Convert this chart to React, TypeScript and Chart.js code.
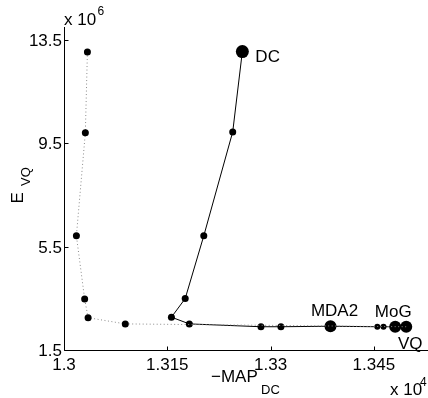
import React, { useEffect, useRef } from "react";
import { Chart, registerables } from "chart.js";

Chart.register(...registerables);

const xTicks = [1.3, 1.315, 1.33, 1.345];
const xTickLabels = ["1.3", "1.315", "1.33", "1.345"];
const yTicks = [1.5, 5.5, 9.5, 13.5];
const yTickLabels = ["1.5", "5.5", "9.5", "13.5"];

const dottedX = [1.3034, 1.3031, 1.3018, 1.303, 1.3035, 1.3089, 1.3497];
const dottedY = [13.03, 9.91, 5.92, 3.47, 2.75, 2.51, 2.4];
const dottedMarker = [3.5, 3.5, 3.5, 3.5, 3.5, 3.5, 0];

const solidX = [1.3259, 1.3245, 1.3203, 1.3176, 1.3156, 1.3182, 1.3286, 1.3315, 1.3387, 1.3455, 1.3464, 1.3481, 1.3497];
const solidY = [13.05, 9.94, 5.92, 3.49, 2.77, 2.51, 2.4, 2.4, 2.42, 2.4, 2.4, 2.4, 2.4];
const solidMarker = [6.5, 3.5, 3.5, 3.5, 3.5, 3.5, 3.5, 3.5, 6, 3, 3, 6, 6];

const pointLabels = ["DC", "MDA2", "MoG", "VQ"];
const pointLabelIndex = [0, 8, 11, 12];

const FONT = '"Liberation Sans", Arial, Helvetica, sans-serif';

export default function App() {
  const ref = useRef<HTMLCanvasElement | null>(null);

  useEffect(() => {
    if (!ref.current) return;
    const labelOffsets: [number, number, string][] = [
      [13, 10, "left"],
      [4, -10.5, "center"],
      [-2, -10, "center"],
      [4, 22, "center"],
    ];
    const axesPlugin = {
      id: "matlabAxes",
      afterDraw(chart: any) {
        const ctx = chart.ctx as CanvasRenderingContext2D;
        const xs = chart.scales.x;
        const ys = chart.scales.y;
        const ca = chart.chartArea;
        ctx.save();
        ctx.strokeStyle = "#000";
        ctx.lineWidth = 1;
        const left = Math.round(ca.left) + 0.5;
        const bottom = Math.round(ca.bottom) + 0.5;
        ctx.beginPath();
        ctx.moveTo(left, Math.round(ca.top));
        ctx.lineTo(left, bottom);
        ctx.lineTo(chart.width, bottom);
        ctx.stroke();
        // ticks
        ctx.beginPath();
        xTicks.forEach((v) => {
          const px = Math.round(xs.getPixelForValue(v)) + 0.5;
          ctx.moveTo(px, bottom);
          ctx.lineTo(px, bottom - 4);
        });
        yTicks.forEach((v) => {
          const py = Math.round(ys.getPixelForValue(v)) + 0.5;
          ctx.moveTo(left, py);
          ctx.lineTo(left + 4, py);
        });
        ctx.stroke();
        ctx.fillStyle = "#000";
        ctx.font = `17px ${FONT}`;
        ctx.textBaseline = "alphabetic";
        ctx.textAlign = "center";
        xTicks.forEach((v, i) => {
          ctx.fillText(xTickLabels[i], xs.getPixelForValue(v), 369.5);
        });
        ctx.textAlign = "right";
        yTicks.forEach((v, i) => {
          ctx.fillText(yTickLabels[i], 62, ys.getPixelForValue(v) + 6);
        });
        // exponents
        ctx.textAlign = "left";
        ctx.fillText("x 10", 64, 25);
        ctx.fillText("x 10", 390, 395);
        ctx.font = `12px ${FONT}`;
        ctx.fillText("6", 97.5, 15);
        ctx.fillText("4", 420, 385.5);
        // x label
        ctx.font = `17px ${FONT}`;
        ctx.fillText("\u2212MAP", 211, 381.5);
        ctx.font = `13px ${FONT}`;
        ctx.fillText("DC", 261, 393.5);
        // y label
        ctx.save();
        ctx.translate(22.5, 203.5);
        ctx.rotate(-Math.PI / 2);
        ctx.font = `17px ${FONT}`;
        ctx.fillText("E", 0, 0);
        ctx.restore();
        ctx.save();
        ctx.translate(30, 186);
        ctx.rotate(-Math.PI / 2);
        ctx.font = `13px ${FONT}`;
        ctx.fillText("VQ", 0, 0);
        ctx.restore();
        // point labels
        ctx.font = `17px ${FONT}`;
        pointLabels.forEach((t, i) => {
          const idx = pointLabelIndex[i];
          const px = xs.getPixelForValue(solidX[idx]);
          const py = ys.getPixelForValue(solidY[idx]);
          const [dx, dy, al] = labelOffsets[i];
          ctx.textAlign = al as CanvasTextAlign;
          ctx.fillText(t, px + dx, py + dy);
        });
        ctx.restore();
      },
    };

    const chart = new Chart(ref.current, {
      type: "scatter",
      data: {
        datasets: [
          {
            data: dottedX.map((x, i) => ({ x, y: dottedY[i] })),
            showLine: true,
            borderColor: "#8a8a8a",
            borderWidth: 1,
            borderDash: [1, 2.5],
            pointRadius: dottedMarker,
            pointBackgroundColor: "#000",
            pointBorderWidth: 0,
            pointBorderColor: "#000",
            clip: false,
          } as any,
          {
            data: solidX.map((x, i) => ({ x, y: solidY[i] })),
            showLine: true,
            borderColor: "#000",
            borderWidth: 1,
            pointRadius: solidMarker,
            pointBackgroundColor: "#000",
            pointBorderWidth: 0,
            pointBorderColor: "#000",
            clip: false,
          } as any,
        ],
      },
      options: {
        animation: false,
        responsive: false,
        events: [],
        layout: { autoPadding: false, padding: { left: 64, top: 27, right: 0, bottom: 48 } },
        plugins: { legend: { display: false }, tooltip: { enabled: false } },
        scales: {
          x: { type: "linear", display: false, min: 1.3, max: 1.35286 },
          y: { type: "linear", display: false, min: 1.5, max: 14 },
        },
      },
      plugins: [axesPlugin],
    });
    return () => chart.destroy();
  }, []);

  return (
    <div style={{ position: "absolute", left: 0, top: 0, width: 428, height: 398, background: "#fff" }}>
      <canvas ref={ref} width={428} height={398} style={{ width: 428, height: 398 }} />
    </div>
  );
}
